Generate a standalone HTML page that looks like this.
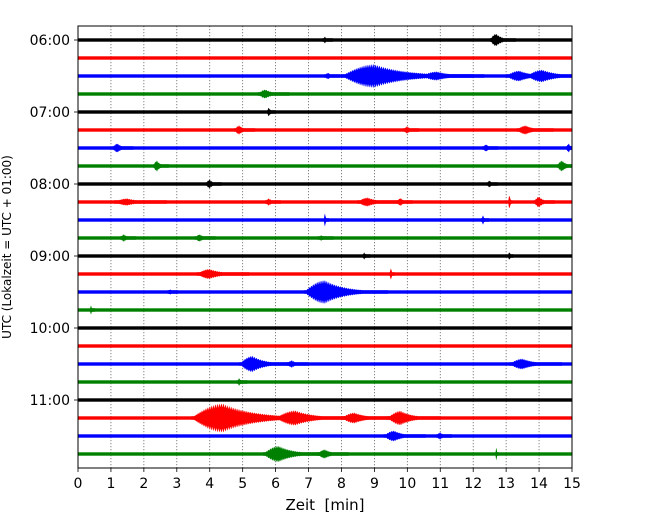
<!DOCTYPE html>
<html><head><meta charset="utf-8"><style>
body{margin:0;background:#fff;}
svg text{font-family:"DejaVu Sans","Liberation Sans",sans-serif;white-space:pre;}
</style></head><body>
<svg id="chart" width="650" height="520" xmlns="http://www.w3.org/2000/svg"></svg>
<script>
// ---- data ----
const traceLabels = ["06:00","06:15","06:30","06:45","07:00","07:15","07:30","07:45","08:00","08:15","08:30","08:45","09:00","09:15","09:30","09:45","10:00","10:15","10:30","10:45","11:00","11:15","11:30","11:45"];
const traceColors = ["#000000","#ff0000","#0000ff","#008000"];
const xTicks = [0,1,2,3,4,5,6,7,8,9,10,11,12,13,14,15];
const hourTicks = ["06:00","07:00","08:00","09:00","10:00","11:00"];
// events: trace index, time [min], amplitude (trace units), duration [min]
const evTrace = [0,0, 2,2,2,2,2, 3,4, 5,5,5, 6,6,6, 7,7, 8,8, 9,9,9,9,9,9, 10,10, 11,11,11, 12,12, 13,13, 14,14, 15, 18,18,18, 19, 21,21,21,21, 22,22, 23,23,23];
const evTime  = [7.5,12.7, 9.0,10.9,13.4,14.1,7.6, 5.7,5.8, 4.9,10.0,13.6, 1.2,12.4,14.9, 2.4,14.7, 4.0,12.5, 1.5,5.8,8.8,9.8,13.1,14.0, 7.5,12.3, 1.4,3.7,7.4, 8.7,13.1, 4.0,9.5, 7.5,2.8, 0.4, 5.3,13.5,6.5, 4.9, 4.4,6.6,8.4,9.8, 9.6,11.0, 6.1,7.5,12.7];
const evAmp   = [0.18,0.35, 0.65,0.25,0.3,0.35,0.18, 0.25,0.25, 0.25,0.2,0.25, 0.25,0.2,0.25, 0.3,0.3, 0.25,0.2, 0.2,0.2,0.25,0.22,0.45,0.3, 0.35,0.25, 0.2,0.2,0.15, 0.2,0.25, 0.28,0.33, 0.65,0.15, 0.25, 0.45,0.3,0.2, 0.2, 0.8,0.42,0.3,0.4, 0.3,0.2, 0.45,0.25,0.4];
const evDur   = [0.2,0.5, 2.5,1.2,1.0,1.2,0.3, 0.6,0.15, 0.4,0.3,0.7, 0.4,0.3,0.2, 0.3,0.4, 0.3,0.2, 1.0,0.3,0.8,0.3,0.08,0.4, 0.1,0.15, 0.3,0.4,0.3, 0.15,0.1, 1.0,0.1, 1.6,0.2, 0.1, 1.0,1.0,0.4, 0.2, 2.4,1.5,1.0,1.0, 0.8,0.3, 1.2,0.6,0.06];

const NS="http://www.w3.org/2000/svg";
const svg=document.getElementById('chart');
const L=78,R=572,T=26,B=468;
const y0=40, rowH=18;
const xS=t=>L+(R-L)*t/15;
const yS=i=>y0+i*rowH;
function mk(tag,attrs,parent){const e=document.createElementNS(NS,tag);for(const k in attrs)e.setAttribute(k,attrs[k]);(parent||svg).appendChild(e);return e;}

xTicks.forEach(t=>{
  if(t>0&&t<15){const g=mk('line',{x1:xS(t),x2:xS(t),y1:T,y2:B,stroke:'#666','stroke-width':0.8,'stroke-dasharray':'1.2,1.8'});
  
  }
});

traceLabels.forEach((lab,i)=>{
  const y=yS(i), col=traceColors[i%4];
  const g=mk('g',{});
  
  
  mk('rect',{x:L,y:y-1.7,width:R-L,height:3.4,fill:col},g);
  const step=0.01;
  for(let k=0;k<evTrace.length;k++){
    if(evTrace[k]!==i)continue;
    const tc=evTime[k],a=evAmp[k]*rowH,d=evDur[k];
    const ts=Math.max(0,tc-d*0.4), te=Math.min(15,tc+d*1.2);
    const env=t=>{let base;if(t<tc){const u=Math.max(0,(t-ts)/(tc-ts||1));base=a*Math.sin(u*Math.PI/2);}else base=a*Math.exp(-2.5*(t-tc)/Math.max(d,0.01));
      return base*(0.7+0.3*Math.abs(Math.sin(t*53)));};
    let top=[],bot=[];
    for(let t=ts;t<=te+1e-9;t+=step){const h=Math.max(1.7,env(t));top.push(xS(t).toFixed(1)+','+(y-h).toFixed(1));bot.unshift(xS(t).toFixed(1)+','+(y+h).toFixed(1));}
    if(top.length<3){const h=a;top=[(xS(tc)-0.8)+','+(y-h),(xS(tc)+0.8)+','+(y-h)];bot=[(xS(tc)+0.8)+','+(y+h),(xS(tc)-0.8)+','+(y+h)];}
    const p=mk('polygon',{points:top.concat(bot).join(' '),fill:col},g);
    
    
  }
});

const fr=mk('rect',{x:L,y:T,width:R-L,height:B-T,fill:'none',stroke:'#000','stroke-width':1});



xTicks.forEach(t=>{
  mk('line',{x1:xS(t),x2:xS(t),y1:B,y2:B+4,stroke:'#000','stroke-width':0.8});
  const tx=mk('text',{x:xS(t),y:B+20,'font-size':14,'text-anchor':'middle',fill:'#000'});
  tx.textContent=t;
  
  
});
hourTicks.forEach(h=>{
  const i=traceLabels.indexOf(h), y=yS(i);
  mk('line',{x1:L-4,x2:L,y1:y,y2:y,stroke:'#000','stroke-width':0.8});
  const tx=mk('text',{x:L-8,y:y+5,'font-size':14,'text-anchor':'end',fill:'#000'});
  tx.textContent=h;
  
  
});
const xt=mk('text',{x:(L+R)/2,y:510,'font-size':15,'text-anchor':'middle',fill:'#000'});
xt.textContent='Zeit  [min]';


const yt=mk('text',{x:0,y:0,'font-size':12,'text-anchor':'middle',fill:'#000',transform:'translate(11,247) rotate(-90)'});
yt.textContent='UTC (Lokalzeit = UTC + 01:00)';


</script>
</body></html>
